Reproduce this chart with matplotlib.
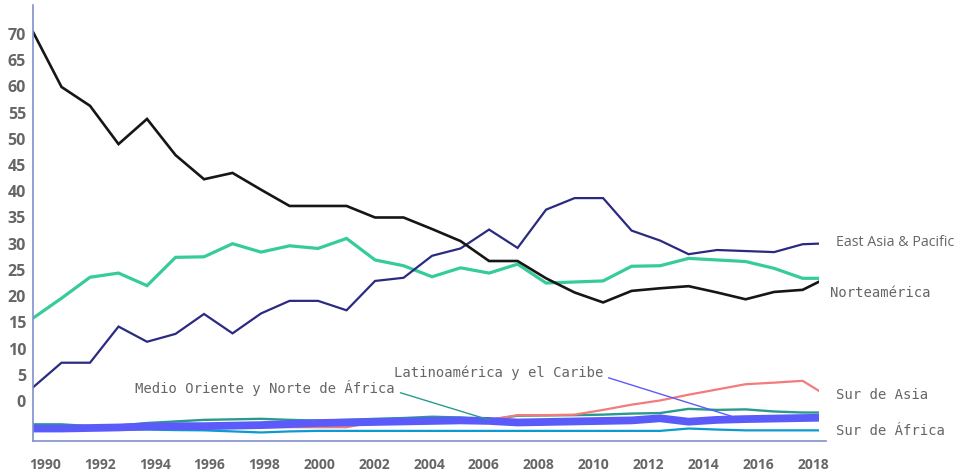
import matplotlib
matplotlib.use("Agg")
import matplotlib.pyplot as plt
from matplotlib.patches import Rectangle
import numpy as np

years = np.arange(1990, 2019)

norteamerica = [70.4, 59.9, 56.3, 49.0, 53.8, 46.9, 42.3, 43.5, 40.3, 37.2,
                37.2, 37.2, 35.0, 35.0, 32.8, 30.5, 26.7, 26.7, 23.4, 20.7,
                18.8, 21.0, 21.5, 21.9, 20.7, 19.4, 20.8, 21.2, 23.9]
east_asia = [2.6, 7.3, 7.3, 14.2, 11.3, 12.8, 16.6, 12.9, 16.7, 19.1,
             19.1, 17.3, 22.9, 23.5, 27.7, 29.1, 32.7, 29.2, 36.5, 38.7,
             38.7, 32.5, 30.6, 28.0, 28.8, 28.6, 28.4, 29.9, 30.1]
europa_asia_central = [15.8, 19.6, 23.6, 24.4, 22.0, 27.4, 27.5, 30.0, 28.4, 29.6,
                       29.1, 31.0, 26.9, 25.8, 23.7, 25.4, 24.4, 26.1, 22.5, 22.7,
                       22.9, 25.7, 25.8, 27.2, 26.9, 26.6, 25.3, 23.4, 23.4]
sur_asia = [-4.9, -4.9, -4.95, -5.0, -5.0, -5.0, -5.0, -5.0, -5.0, -5.0,
            -5.0, -5.0, -4.0, -3.6, -3.4, -3.4, -3.6, -2.7, -2.7, -2.6,
            -1.7, -0.7, 0.1, 1.2, 2.2, 3.2, 3.5, 3.85, 0.5]
medio_oriente = [-4.45, -4.45, -4.8, -4.7, -4.2, -3.9, -3.6, -3.5, -3.4, -3.6,
                 -3.75, -3.6, -3.4, -3.25, -3.0, -3.15, -3.6, -2.8, -2.75, -2.7,
                 -2.6, -2.4, -2.3, -1.5, -1.7, -1.6, -2.0, -2.2, -2.2]
latinoamerica = [-5.25, -5.25, -5.15, -5.05, -4.85, -4.8, -4.8, -4.7, -4.6, -4.4,
                 -4.2, -4.1, -4.0, -3.9, -3.8, -3.7, -3.8, -4.1, -4.0, -3.9,
                 -3.8, -3.7, -3.3, -3.95, -3.6, -3.45, -3.35, -3.25, -3.15]
sur_africa = [-5.55, -5.55, -5.45, -5.45, -5.45, -5.55, -5.6, -5.8, -6.0, -5.8,
              -5.7, -5.7, -5.7, -5.7, -5.7, -5.7, -5.7, -5.7, -5.7, -5.7,
              -5.7, -5.7, -5.7, -5.25, -5.45, -5.6, -5.6, -5.6, -5.6]

y_ticks = list(range(0, 75, 5))
x_labels = [str(y) for y in range(1990, 2019, 2)]

GREY = "#666666"
SPINE = "#8090cc"

fig = plt.figure(figsize=(9.62, 4.75), dpi=100)
ax = fig.add_axes([33 / 962, 34 / 475, 793 / 962, 436 / 475])
ax.set_xlim(1990, 2017.82)
ax.set_ylim(-7.63, 75.53)

# lines stop a few pixels before the end of the x axis
clip = Rectangle((1990, -20), 27.58, 120, transform=ax.transData)

series = [
    (sur_africa, "#0a9bd0", 1.6),
    (medio_oriente, "#2a9a8c", 1.7),
    (sur_asia, "#f37b7b", 1.6),
    (latinoamerica, "#5b5bfa", 5.6),
    (europa_asia_central, "#36cc98", 2.3),
    (east_asia, "#2a2b80", 1.6),
    (norteamerica, "#161616", 1.9),
]
for vals, color, lw in series:
    line, = ax.plot(years, vals, color=color, lw=lw, solid_joinstyle="miter")
    line.set_clip_path(clip)

for side in ["top", "right"]:
    ax.spines[side].set_visible(False)
for side in ["left", "bottom"]:
    ax.spines[side].set_color(SPINE)
    ax.spines[side].set_linewidth(1.2)

ax.set_yticks(y_ticks)
ax.set_yticklabels([str(t) for t in y_ticks])
ax.tick_params(axis="y", length=0, pad=5, labelcolor=GREY)
for lab in ax.get_yticklabels():
    lab.set_fontfamily("Open Sans")
    lab.set_fontweight("bold")
    lab.set_fontsize(11.5)

ax.set_xticks(np.linspace(1990.42, 2017.37, len(x_labels)))
ax.set_xticklabels(x_labels)
ax.tick_params(axis="x", length=0, pad=12, labelcolor=GREY)
for lab in ax.get_xticklabels():
    lab.set_fontfamily("Open Sans")
    lab.set_fontweight("bold")
    lab.set_fontsize(10)

mono = dict(family="DejaVu Sans Mono", fontsize=10, color=GREY, va="center")

ax.text(2018.18, 30.2, "East Asia & Pacific", family="Open Sans", fontsize=10.3,
        color=GREY, va="center", ha="left", clip_on=False)
ax.text(2017.96, 20.6, "Norteamérica", ha="left", clip_on=False, **mono)
ax.text(2018.18, 1.1, "Sur de Asia", ha="left", clip_on=False, **mono)
ax.text(2018.18, -5.7, "Sur de África", ha="left", clip_on=False, **mono)

ax.annotate("Medio Oriente y Norte de África", xy=(2006, -3.6), xytext=(2002.7, 2.5),
            ha="right", arrowprops=dict(arrowstyle="-", color="#2a9a8c", lw=1,
                                        relpos=(1, 0.3), shrinkA=2, shrinkB=0), **mono)
ax.annotate("Latinoamérica y el Caribe", xy=(2014.5, -2.9), xytext=(2010.0, 5.3),
            ha="right", arrowprops=dict(arrowstyle="-", color="#5b5bfa", lw=1,
                                        relpos=(1, 0.3), shrinkA=2, shrinkB=0), **mono)

fig.savefig("out.png", dpi=100)
